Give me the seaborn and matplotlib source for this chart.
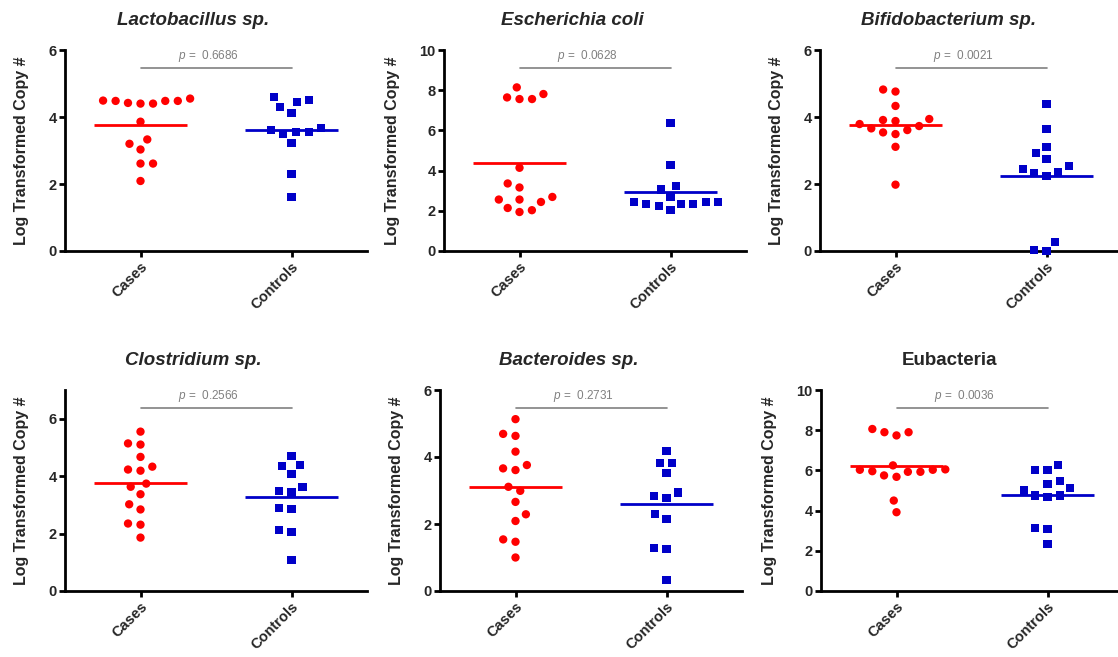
import numpy as np
import pandas as pd
import seaborn as sns
import matplotlib.pyplot as plt
from matplotlib.transforms import blended_transform_factory

groups = ["Cases", "Controls"]
titles = ["Lactobacillus sp.", "Escherichia coli", "Bifidobacterium sp.",
          "Clostridium sp.", "Bacteroides sp.", "Eubacteria"]
italic_title = [True, True, True, True, True, False]
p_values = ["0.6686", "0.0628", "0.0021", "0.2566", "0.2731", "0.0036"]
y_max = [6, 10, 6, 7, 6, 10]

# values (log transformed copy #)
lacto_cases = [4.49, 4.48, 4.40, 4.40, 4.55, 4.42, 4.48, 4.48,
               3.86, 3.33, 3.20, 3.03, 2.61, 2.61, 2.09]
lacto_controls = [4.60, 4.45, 4.50, 4.13, 4.29, 3.66, 3.56, 3.62,
                  3.48, 3.56, 3.23, 2.29, 1.61]
ecoli_cases = [8.14, 7.64, 7.56, 7.56, 7.81, 4.14, 3.16, 3.36,
               2.56, 2.56, 2.69, 2.44, 2.14, 1.94, 2.03]
ecoli_controls = [6.35, 4.30, 3.06, 3.22, 2.69, 2.44, 2.36, 2.36,
                  2.44, 2.23, 2.36, 2.44, 2.03]
bifido_cases = [4.82, 4.76, 4.33, 3.91, 3.88, 3.94, 3.73, 3.79,
                3.61, 3.49, 3.54, 3.66, 3.11, 1.98]
bifido_controls = [4.39, 3.64, 3.11, 2.93, 2.74, 2.46, 2.53, 2.33,
                   2.24, 2.36, 0.27, 0.00, 0.02]
clostr_cases = [5.55, 5.10, 5.14, 4.67, 4.33, 4.19, 4.23, 3.63,
                3.74, 3.37, 3.02, 2.84, 2.35, 2.31, 1.86]
clostr_controls = [4.70, 4.40, 4.36, 4.09, 3.63, 3.48, 3.43, 2.87,
                   2.90, 2.12, 2.06, 1.09]
bacter_cases = [5.13, 4.69, 4.63, 4.16, 3.66, 3.61, 3.76, 2.99,
                3.11, 2.66, 2.29, 2.09, 1.54, 1.47, 1.00]
bacter_controls = [4.19, 3.83, 3.81, 3.51, 2.83, 2.78, 2.94, 2.29,
                   2.14, 1.29, 1.24, 0.34]
eubac_cases = [7.90, 7.74, 7.90, 8.06, 6.03, 5.93, 5.75, 6.05,
               6.25, 5.68, 5.93, 5.96, 6.03, 4.50, 3.92]
eubac_controls = [6.29, 6.00, 6.00, 5.47, 5.33, 5.12, 5.00, 4.75,
                  4.67, 4.75, 3.15, 3.10, 2.32]

cases = [lacto_cases, ecoli_cases, bifido_cases,
         clostr_cases, bacter_cases, eubac_cases]
controls = [lacto_controls, ecoli_controls, bifido_controls,
            clostr_controls, bacter_controls, eubac_controls]

red = "#ff0000"
blue = "#0000c8"
grey = "#808080"

sns.set_style("ticks")
plt.rcParams["font.family"] = ["Liberation Sans", "DejaVu Sans"]
plt.rcParams["mathtext.fontset"] = "custom"
plt.rcParams["mathtext.it"] = "Liberation Sans:italic"
plt.rcParams["mathtext.rm"] = "Liberation Sans"

fig = plt.figure(figsize=(11.18, 6.57), dpi=100)
FW, FH = 1118, 657

# axes boxes in pixels: left edge, bottom edge (from top), width, height
lefts = [65, 444, 820, 65, 440, 821]
bottoms = [251, 251, 251, 591, 591, 591]
aw, ah = 302, 201

for i in range(6):
    ax = fig.add_axes([lefts[i] / FW, (FH - bottoms[i]) / FH, aw / FW, ah / FH])

    df_c = pd.DataFrame({"group": "Cases", "value": cases[i]})
    df_k = pd.DataFrame({"group": "Controls", "value": controls[i]})

    # an invisible edge widens the swarm spacing like the original
    sns.swarmplot(data=df_c, x="group", y="value", order=groups, ax=ax,
                  color=red, marker="o", size=6.0, linewidth=2.6,
                  edgecolor="none", zorder=3)
    sns.swarmplot(data=df_k, x="group", y="value", order=groups, ax=ax,
                  color=blue, marker="s", size=5.8, linewidth=2.8,
                  edgecolor="none", zorder=3)
    # drop the empty collections seaborn makes for the missing category,
    # let the real ones sit on top of the axis line
    for coll in list(ax.collections):
        if len(coll.get_offsets()) == 0:
            coll.remove()
        else:
            coll.set_clip_on(False)

    for j, (vals, col) in enumerate([(cases[i], red), (controls[i], blue)]):
        m = np.mean(vals)
        ax.hlines(m, j - 0.31, j + 0.31, color=col, lw=2, zorder=2)

    ax.set_xlim(-0.5, 1.5)
    ax.set_ylim(0, y_max[i])
    ax.set_yticks(np.arange(0, y_max[i] + 0.1, 2))
    ax.set_xlabel("")
    ax.set_ylabel("Log Transformed Copy #", fontsize=11.5, fontweight="bold",
                  labelpad=14)

    for s in ["top", "right"]:
        ax.spines[s].set_visible(False)
    for s in ["left", "bottom"]:
        ax.spines[s].set_linewidth(2)
        ax.spines[s].set_color("black")
    ax.tick_params(axis="both", width=2, length=4, color="black",
                   labelsize=10.5, pad=2)
    for lab in ax.get_yticklabels():
        lab.set_fontweight("bold")
    ax.set_xticks([0, 1])
    ax.set_xticklabels(groups, rotation=45, ha="right", rotation_mode="anchor",
                       fontweight="bold", fontsize=10.5)

    # p-value bar
    tr = blended_transform_factory(ax.transData, ax.transAxes)
    ax.plot([0, 1], [0.91, 0.91], color=grey, lw=1.2, transform=tr,
            clip_on=False)
    ax.text(0.45, 0.93, r"$p$ =  " + p_values[i], color=grey, fontsize=8.5,
            ha="center", va="bottom", transform=tr)

    ax.text(0.425, 1.125, titles[i], transform=ax.transAxes, ha="center",
            va="baseline", fontsize=13.5, fontweight="bold",
            fontstyle="italic" if italic_title[i] else "normal")

fig.savefig("out.png", dpi=100)
